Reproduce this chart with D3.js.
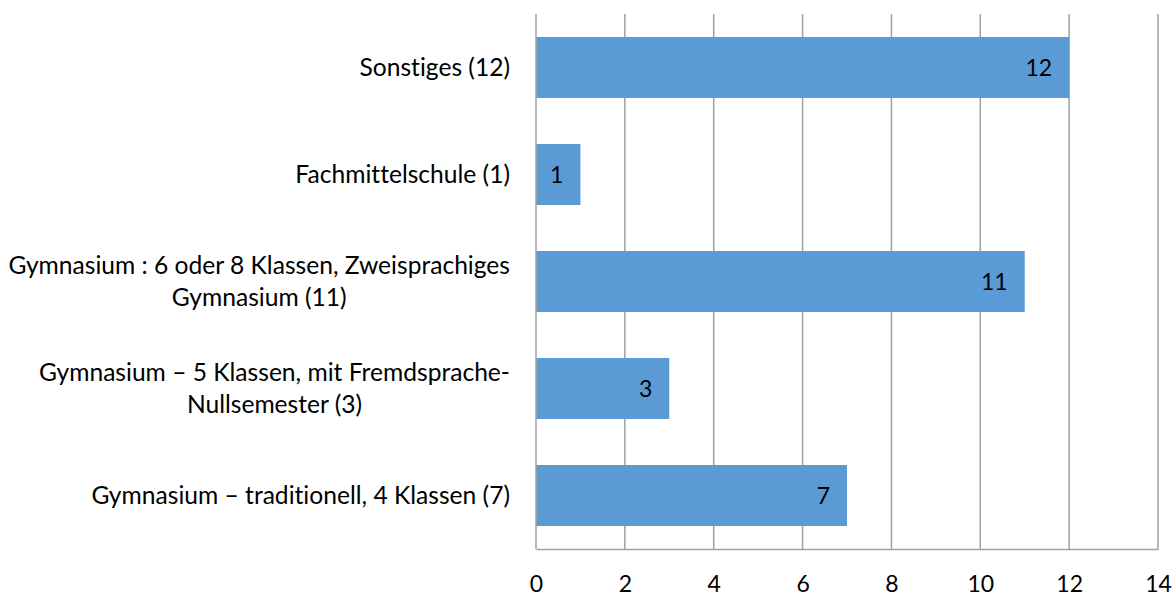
<!DOCTYPE html>
<html>
<head>
<meta charset="utf-8">
<script src="https://cdn.jsdelivr.net/npm/d3@7"></script>
<style>
  html, body { margin: 0; padding: 0; background: #ffffff; }
  svg text { font-family: Lato, "Open Sans", sans-serif; fill: #000; font-variant-ligatures: none; font-feature-settings: "liga" 0; }
</style>
</head>
<body>
<svg id="chart" width="1173" height="597"></svg>
<script>
// Categories, top to bottom, each split into its display lines
const categories = [
  "Sonstiges (12)",
  "Fachmittelschule (1)",
  "Gymnasium : 6 oder 8 Klassen, Zweisprachiges Gymnasium (11)",
  "Gymnasium – 5 Klassen, mit Fremdsprache-Nullsemester (3)",
  "Gymnasium – traditionell, 4 Klassen (7)"
];
const categoryLines = [
  ["Sonstiges (12)"],
  ["Fachmittelschule (1)"],
  ["Gymnasium : 6 oder 8 Klassen, Zweisprachiges", "Gymnasium (11)"],
  ["Gymnasium – 5 Klassen, mit Fremdsprache-", "Nullsemester (3)"],
  ["Gymnasium – traditionell, 4 Klassen (7)"]
];
const values = [12, 1, 11, 3, 7];
const xTicks = [0, 2, 4, 6, 8, 10, 12, 14];

const svg = d3.select("#chart");
const margin = { top: 14, right: 15, bottom: 48, left: 536 };
const W = 1173, H = 597;
const fontFamily = "Lato, 'Open Sans', sans-serif";

const x = d3.scaleLinear()
  .domain([0, 14])
  .range([margin.left, W - margin.right]);

const y = d3.scaleBand()
  .domain(categories)
  .range([margin.top, H - margin.bottom])
  .paddingInner(0.43)
  .paddingOuter(0.215);

const gridColor = "#a0a0a0";

// vertical gridlines
svg.append("g")
  .selectAll("line")
  .data(xTicks.slice(1))
  .join("line")
  .attr("x1", d => x(d)).attr("x2", d => x(d))
  .attr("y1", margin.top).attr("y2", H - margin.bottom)
  .attr("stroke", gridColor)
  .attr("stroke-width", 1.5);

// bars
svg.append("g")
  .selectAll("rect")
  .data(values)
  .join("rect")
  .attr("x", x(0))
  .attr("y", (d, i) => y(categories[i]))
  .attr("width", d => x(d) - x(0))
  .attr("height", y.bandwidth())
  .attr("fill", "#5b9bd5");

// value labels inside the bar ends
svg.append("g")
  .selectAll("text")
  .data(values)
  .join("text")
  .attr("x", d => x(d) - 17)
  .attr("y", (d, i) => y(categories[i]) + y.bandwidth() / 2)
  .attr("dy", "0.36em")
  .attr("text-anchor", "end")
  .attr("font-size", 23)
  .text(d => d);

// x axis
const xAxis = svg.append("g")
  .attr("transform", `translate(0,${H - margin.bottom})`)
  .call(d3.axisBottom(x).tickValues(xTicks).tickSize(0).tickPadding(27));
xAxis.select(".domain").attr("stroke", gridColor).attr("stroke-width", 1.5);
xAxis.selectAll("text").attr("font-size", 23).attr("font-family", fontFamily).attr("fill", "#000");

// y axis line
svg.append("line")
  .attr("x1", x(0)).attr("x2", x(0))
  .attr("y1", margin.top).attr("y2", H - margin.bottom)
  .attr("stroke", gridColor)
  .attr("stroke-width", 1.5);

// category labels, right-aligned and vertically centered on each band
const lineH = 32;
const labels = svg.append("g")
  .selectAll("text")
  .data(categories)
  .join("text")
  .attr("text-anchor", "end")
  .attr("font-size", 24.6)
  .attr("transform", d => `translate(${margin.left - 26},${y(d) + y.bandwidth() / 2})`);
labels.each(function (d, i) {
  const lines = categoryLines[i];
  const t = d3.select(this);
  lines.forEach((ln, k) => {
    t.append("tspan")
      .attr("x", 0)
      .attr("y", (k - (lines.length - 1) / 2) * lineH)
      .attr("dy", "0.36em")
      .attr("text-anchor", k === 0 || lines.length === 1 ? "end" : "middle")
      .text(ln);
  });
});
// second lines are centered under the first line
labels.each(function () {
  const tsp = d3.select(this).selectAll("tspan").nodes();
  if (tsp.length > 1) {
    const w0 = tsp[0].getComputedTextLength();
    d3.select(tsp[1]).attr("x", -w0 / 2);
  }
});
</script>
</body>
</html>
